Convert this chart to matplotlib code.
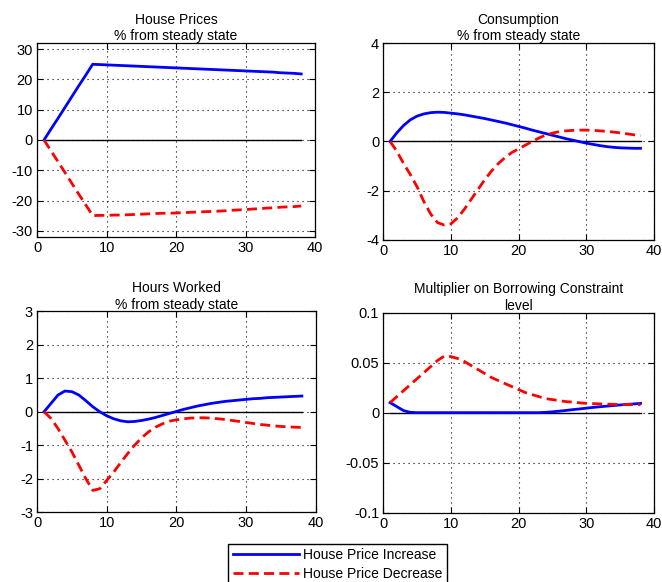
import matplotlib.pyplot as plt
import numpy as np

plt.rcParams['font.family'] = ['Liberation Sans', 'DejaVu Sans']
plt.rcParams['axes.unicode_minus'] = False

# periods 1..38
t = list(range(1, 39))

# House prices, % from steady state
hp_up = [0, 3.6, 7.1, 10.7, 14.3, 17.9, 21.4, 25.0, 24.9, 24.8, 24.7, 24.6, 24.5,
         24.4, 24.3, 24.2, 24.1, 24.0, 23.9, 23.8, 23.7, 23.6, 23.5, 23.4, 23.3,
         23.2, 23.1, 23.0, 22.9, 22.8, 22.7, 22.6, 22.5, 22.4, 22.2, 22.1, 22.0, 21.8]
hp_down = [0, -3.6, -7.1, -10.7, -14.3, -17.9, -21.4, -25.0, -24.9, -24.9, -24.8, -24.8,
           -24.7, -24.6, -24.5, -24.4, -24.3, -24.2, -24.2, -24.1, -24.0, -23.9, -23.8,
           -23.7, -23.6, -23.5, -23.4, -23.2, -23.1, -23.0, -22.8, -22.7, -22.5, -22.4,
           -22.2, -22.1, -22.0, -21.8]

# Consumption, % from steady state
cons_up = [0, 0.35, 0.65, 0.88, 1.03, 1.12, 1.17, 1.19, 1.18, 1.15, 1.12, 1.08, 1.03,
           0.98, 0.93, 0.87, 0.81, 0.75, 0.68, 0.61, 0.54, 0.46, 0.39, 0.32, 0.25,
           0.18, 0.11, 0.05, -0.01, -0.07, -0.12, -0.17, -0.21, -0.24, -0.26, -0.27,
           -0.28, -0.28]
cons_down = [0, -0.4, -0.9, -1.35, -1.85, -2.45, -2.95, -3.3, -3.4, -3.35, -3.1, -2.75,
             -2.35, -1.95, -1.55, -1.2, -0.9, -0.65, -0.45, -0.3, -0.15, 0.0, 0.14,
             0.26, 0.34, 0.40, 0.43, 0.45, 0.46, 0.46, 0.45, 0.43, 0.41, 0.38, 0.35,
             0.31, 0.27, 0.23]

# Hours worked, % from steady state
hours_up = [0, 0.25, 0.5, 0.62, 0.6, 0.5, 0.33, 0.15, 0.0, -0.12, -0.21, -0.27, -0.3,
            -0.29, -0.26, -0.22, -0.17, -0.11, -0.05, 0.01, 0.07, 0.12, 0.17, 0.21,
            0.25, 0.28, 0.31, 0.33, 0.35, 0.37, 0.39, 0.4, 0.42, 0.43, 0.44, 0.45,
            0.46, 0.47]
hours_down = [0, -0.2, -0.5, -0.85, -1.2, -1.6, -2.0, -2.35, -2.3, -2.05, -1.8, -1.52,
              -1.25, -1.0, -0.78, -0.6, -0.46, -0.36, -0.28, -0.24, -0.21, -0.19,
              -0.18, -0.18, -0.19, -0.21, -0.23, -0.26, -0.29, -0.32, -0.35, -0.38,
              -0.4, -0.42, -0.44, -0.45, -0.46, -0.47]

# Multiplier on borrowing constraint, level
mult_up = [0.01, 0.006, 0.002, 0.0003, 0, 0, 0, 0, 0, 0, 0, 0, 0, 0, 0, 0, 0, 0, 0,
           0, 0, 0, 0, 0.0003, 0.0008, 0.0015, 0.0022, 0.003, 0.0037, 0.0045, 0.0052,
           0.0059, 0.0065, 0.0071, 0.0077, 0.0082, 0.0087, 0.0092]
mult_down = [0.01, 0.016, 0.022, 0.028, 0.034, 0.040, 0.046, 0.052, 0.0565, 0.056,
             0.054, 0.051, 0.047, 0.043, 0.039, 0.035, 0.032, 0.029, 0.026, 0.023,
             0.020, 0.018, 0.016, 0.014, 0.013, 0.012, 0.011, 0.0105, 0.0098, 0.0093,
             0.009, 0.0087, 0.0085, 0.0083, 0.0082, 0.0081, 0.008, 0.008]

titles = ["House Prices\n% from steady state", "Consumption\n% from steady state",
          "Hours Worked\n% from steady state", "Multiplier on Borrowing Constraint\nlevel"]
ylims = [(-32, 32), (-4, 4), (-3, 3), (-0.1, 0.1)]
yticks = [[-30, -20, -10, 0, 10, 20, 30], [-4, -2, 0, 2, 4],
          [-3, -2, -1, 0, 1, 2, 3], [-0.1, -0.05, 0, 0.05, 0.1]]
ytick_labels = [None, None, None, ["-0.1", "-0.05", "0", "0.05", "0.1"]]
series = [(hp_up, hp_down), (cons_up, cons_down), (hours_up, hours_down),
          (mult_up, mult_down)]

positions = [[0.056, 0.593, 0.420, 0.333],
             [0.579, 0.588, 0.409, 0.338],
             [0.056, 0.120, 0.421, 0.345],
             [0.579, 0.119, 0.409, 0.344]]

fig = plt.figure(figsize=(6.62, 5.82), dpi=100)

for i in range(4):
    ax = fig.add_axes(positions[i])
    up, down = series[i]
    ax.plot(t, np.zeros(len(t)), color="black", lw=1.0)
    l1, = ax.plot(t, up, color="blue", lw=2.0, label="House Price Increase")
    l2, = ax.plot(t, down, color="red", lw=2.0, dashes=(3.6, 1.9),
                  label="House Price Decrease")
    ax.set_xlim(0, 40)
    ax.set_ylim(*ylims[i])
    ax.set_xticks([0, 10, 20, 30, 40])
    ax.set_yticks(yticks[i])
    if ytick_labels[i]:
        ax.set_yticklabels(ytick_labels[i])
    ax.grid(True, color="black", linestyle=(0, (1, 3.5)), lw=0.8)
    ax.tick_params(direction="in", top=True, right=True, length=4, labelsize=10.5,
                   pad=3)
    for s in ax.spines.values():
        s.set_linewidth(0.9)
    ax.set_title(titles[i], fontsize=10, linespacing=1.25, pad=2)

fig.legend([l1, l2], ["House Price Increase", "House Price Decrease"],
           loc="upper center", bbox_to_anchor=(0.51, 0.078), ncol=1,
           fontsize=10, fancybox=False, edgecolor="black", framealpha=1,
           handlelength=4.8, borderpad=0.3, labelspacing=0.4, handletextpad=0.3)

plt.savefig("out.png", dpi=100)
